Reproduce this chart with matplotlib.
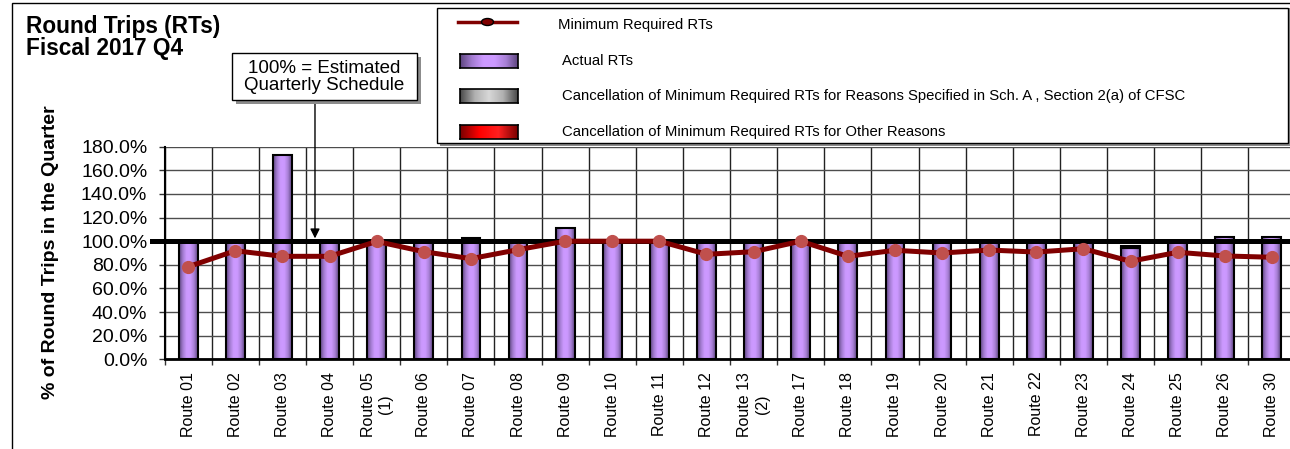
import matplotlib
matplotlib.use('Agg')
import matplotlib.pyplot as plt
import numpy as np
from matplotlib.colors import LinearSegmentedColormap
from matplotlib.patches import Rectangle, Ellipse
from matplotlib.lines import Line2D
from matplotlib.ticker import FuncFormatter, MultipleLocator

plt.rcParams['font.family'] = ['Liberation Sans', 'DejaVu Sans']

routes = ['Route 01', 'Route 02', 'Route 03', 'Route 04', 'Route 05\n(1)', 'Route 06',
          'Route 07', 'Route 08', 'Route 09', 'Route 10', 'Route 11', 'Route 12',
          'Route 13\n(2)', 'Route 17', 'Route 18', 'Route 19', 'Route 20', 'Route 21',
          'Route 22', 'Route 23', 'Route 24', 'Route 25', 'Route 26', 'Route 30']
# % of estimated quarterly schedule
actual_rts = [100.0, 100.0, 173.0, 100.0, 100.0, 100.0, 103.0, 100.0, 110.9, 100.0, 100.0, 100.0,
              100.0, 100.0, 100.0, 100.0, 100.0, 100.0, 100.0, 100.0, 94.5, 100.0, 103.5, 103.8]
cancel_specified = [0, 0, 0, 0, 0, 0, 0, 0, 0, 0, 0, 0,
                    0, 0, 0, 0, 0, 0, 0, 0, 1.7, 0, 0, 0]
cancel_other = [0] * 24
min_required = [78.4, 91.9, 87.2, 87.2, 99.8, 91.1, 85.2, 92.8, 100.0, 100.0, 100.0, 88.9,
                91.1, 100.0, 87.2, 92.3, 90.0, 92.5, 90.8, 93.6, 83.0, 90.6, 87.5, 86.4]

W, H = 1290, 449
fig = plt.figure(figsize=(W / 100, H / 100), dpi=100)

def fx(px):
    return px / W

def fy(py):
    return 1 - py / H

# outer chart border (clipped at right/bottom like the original)
fig.patches.append(Rectangle((fx(12), fy(460)), fx(1300) - fx(12), fy(3) - fy(460),
                             transform=fig.transFigure, fill=False, ec='black', lw=1))

ax = fig.add_axes([fx(164.7), fy(359.3), fx(1295.4) - fx(164.7), fy(146.7) - fy(359.3)])
x = np.arange(len(routes))
width = 0.4

purple = LinearSegmentedColormap.from_list('purple', ['#5E4680', '#A27BD0', '#CC99FF', '#CC99FF', '#A880D6', '#5E4680'])
grey = LinearSegmentedColormap.from_list('grey', ['#4A4A4A', '#B0B0B0', '#D8D8D8', '#B0B0B0', '#4A4A4A'])
red = LinearSegmentedColormap.from_list('red', ['#7A0000', '#FF0000', '#FF2020', '#7A0000'])
grad = np.linspace(0, 1, 64).reshape(1, -1)

def gradient_bars(bars, cmap):
    for b in bars:
        if b.get_height() <= 0:
            b.set_visible(False)
            continue
        x0, y0 = b.get_x(), b.get_y()
        im = ax.imshow(grad, cmap=cmap, aspect='auto', interpolation='bilinear',
                       extent=(x0, x0 + b.get_width(), y0, y0 + b.get_height()), zorder=2)
        im.set_clip_path(b)
        b.set_facecolor('none')

bars1 = ax.bar(x, actual_rts, width, edgecolor='black', linewidth=1.5, zorder=2.1)
bars2 = ax.bar(x, cancel_specified, width, bottom=actual_rts, edgecolor='black', linewidth=1.5, zorder=2.1)
bars3 = ax.bar(x, cancel_other, width, bottom=np.add(actual_rts, cancel_specified),
               edgecolor='black', linewidth=1.5, zorder=2.1)
gradient_bars(bars1, purple)
gradient_bars(bars2, grey)
gradient_bars(bars3, red)

# 100% reference line
ax.axhline(100, xmin=-13 / 1130.7, xmax=1, color='black', lw=3.6, zorder=3, clip_on=False)

ax.plot(x, min_required, color='#800000', lw=3.6, marker='o', markersize=8.5,
        markerfacecolor='#C0504D', markeredgecolor='#C0504D', zorder=4, clip_on=False)

ax.set_xlim(-0.5, len(routes) - 0.5)
ax.set_ylim(0, 180)
ax.yaxis.set_major_locator(MultipleLocator(20))
ax.yaxis.set_major_formatter(FuncFormatter(lambda v, p: f'{v:.1f}%'))
ax.set_xticks(x)
ax.set_xticklabels(routes, rotation=90, ha='center', va='top', multialignment='center', fontsize=11.5)
ax.set_xticks(np.arange(len(routes) + 1) - 0.5, minor=True)
ax.tick_params(axis='x', which='major', length=0, pad=9)
ax.tick_params(axis='x', which='minor', length=4.5, width=1, color='#333333')
ax.tick_params(axis='y', length=4.5, width=1, pad=8, labelsize=14, color='#333333')
ax.grid(True, axis='y', which='major', color='#4D4D4D', lw=1)
ax.grid(True, axis='x', which='minor', color='#222222', lw=1)
ax.set_axisbelow(True)
for s in ['top', 'right']:
    ax.spines[s].set_visible(False)
ax.spines['left'].set_linewidth(1.5)
ax.spines['bottom'].set_linewidth(2)

fig.text(fx(51), 0.5 * (fy(100) + fy(405)), '% of Round Trips in the Quarter', rotation=90,
         ha='center', va='center', fontsize=14, fontweight='bold')

# title
fig.text(fx(26), fy(33), 'Round Trips (RTs)', fontsize=16.3, fontweight='bold', va='baseline')
fig.text(fx(26), fy(55), 'Fiscal 2017 Q4', fontsize=16.3, fontweight='bold', va='baseline')

# callout box
fig.patches.append(Rectangle((fx(236), fy(104)), fx(185), fy(0) - fy(47), transform=fig.transFigure,
                             fc='#8C8C8C', ec='none', zorder=5))
fig.patches.append(Rectangle((fx(232), fy(100)), fx(185), fy(0) - fy(47), transform=fig.transFigure,
                             fc='white', ec='black', lw=1, zorder=6))
fig.text(fx(324.5), fy(77), '100% = Estimated\nQuarterly Schedule', ha='center', va='center',
         fontsize=13.5, linespacing=1.0, zorder=7)
ax.annotate('', xy=(2.69, 100), xycoords='data', xytext=(2.69, fy(100)), textcoords=('data', 'figure fraction'),
            arrowprops=dict(arrowstyle='-|>', color='black', lw=1, shrinkA=0, shrinkB=2,
                            mutation_scale=14), zorder=6, annotation_clip=False)

# legend
fig.patches.append(Rectangle((fx(440), fy(146)), fx(851), fy(0) - fy(138), transform=fig.transFigure,
                             fc='#8C8C8C', ec='none', zorder=5))
fig.patches.append(Rectangle((fx(437), fy(143)), fx(851), fy(0) - fy(135), transform=fig.transFigure,
                             fc='white', ec='black', lw=1, zorder=6))
fig.add_artist(Line2D([fx(458), fx(517)], [fy(22), fy(22)], color='#800000', lw=2.5, zorder=7))
fig.add_artist(Ellipse((fx(487.5), fy(22)), fx(12), fy(0) - fy(7), transform=fig.transFigure,
                       fc='#800000', ec='black', lw=1, zorder=8))
legend_items = [('Minimum Required RTs', None, 25),
                ('Actual RTs', purple, 61),
                ('Cancellation of Minimum Required RTs for Reasons Specified in Sch. A , Section 2(a) of CFSC', grey, 96),
                ('Cancellation of Minimum Required RTs for Other Reasons', red, 132)]
for label, cmap, yc in legend_items:
    tx = 558 if cmap is None else 562
    fig.text(fx(tx), fy(yc), label, fontsize=10.7, va='center', zorder=8)
    if cmap is not None:
        hy = yc - 7
        lax = fig.add_axes([fx(460), fy(hy + 14), fx(58), fy(0) - fy(14)], zorder=8)
        lax.imshow(grad, cmap=cmap, aspect='auto', interpolation='bilinear')
        lax.set_xticks([])
        lax.set_yticks([])
        for s in lax.spines.values():
            s.set_linewidth(1.2)

fig.savefig('out.png', dpi=100)
